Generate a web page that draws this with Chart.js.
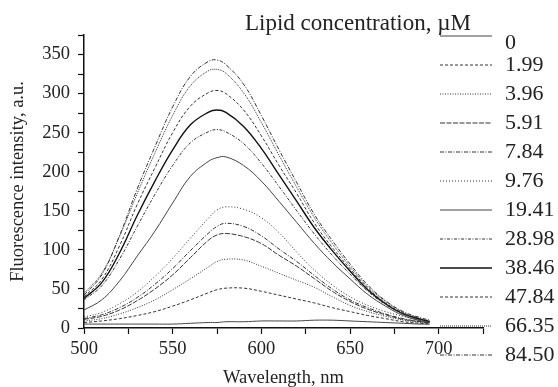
<!DOCTYPE html>
<html>
<head>
<meta charset="utf-8">
<script src="https://cdn.jsdelivr.net/npm/chart.js@4.4.1/dist/chart.umd.min.js"></script>
<style>
  html, body { margin: 0; padding: 0; background: #fff; }
  #wrap { width: 558px; height: 387px; }
</style>
</head>
<body>
<div id="wrap"><canvas id="spectra" width="558" height="387"></canvas></div>
<script>
// wavelength grid, nm
const wavelength = [500, 510, 520, 530, 540, 550, 560, 570, 575, 580, 590, 600, 610, 620, 630, 640, 650, 660, 670, 680, 690, 695];

// lipid concentration, uM (legend labels)
const concentrations = ['0', '1.99', '3.96', '5.91', '7.84', '9.76', '19.41', '28.98', '38.46', '47.84', '66.35', '84.50'];

// fluorescence intensity, a.u., one array per concentration
const f0     = [5, 5, 5, 5, 5, 5, 6, 7, 7, 8, 8, 9, 9, 9, 10, 10, 9, 8, 7, 6, 5, 5];
const f1_99  = [7, 9, 12, 16, 21, 28, 36, 45, 49, 51, 51, 47, 42, 37, 32, 26, 21, 16, 12, 8, 6, 5];
const f3_96  = [9, 12, 18, 26, 36, 49, 63, 78, 85, 88, 87, 79, 70, 61, 52, 40, 29, 21, 15, 10, 7, 6];
const f5_91  = [11, 15, 23, 35, 50, 68, 90, 112, 119, 121, 117, 108, 93, 79, 63, 47, 34, 24, 17, 11, 8, 6];
const f7_84  = [12, 17, 26, 39, 56, 76, 99, 121, 130, 134, 130, 118, 101, 85, 67, 50, 36, 26, 18, 12, 8, 7];
const f9_76  = [14, 20, 31, 46, 66, 89, 115, 140, 151, 155, 152, 141, 122, 97, 74, 55, 40, 29, 21, 15, 10, 8];
const f19_41 = [23, 36, 60, 92, 124, 160, 194, 213, 218, 219, 208, 188, 162, 135, 108, 84, 63, 43, 28, 16, 9, 7];
const f28_98 = [36, 54, 88, 130, 171, 208, 237, 251, 254, 251, 236, 211, 181, 150, 120, 93, 69, 47, 30, 18, 10, 8];
const f38_46 = [38, 58, 96, 144, 188, 228, 260, 276, 279, 276, 258, 230, 196, 162, 128, 99, 73, 49, 31, 18, 11, 8];
const f47_84 = [40, 62, 105, 158, 205, 250, 284, 301, 304, 300, 279, 246, 208, 172, 134, 103, 76, 51, 32, 19, 11, 9];
const f66_35 = [44, 70, 117, 172, 224, 272, 310, 329, 331, 326, 301, 263, 221, 180, 141, 108, 79, 53, 34, 20, 12, 9];
const f84_50 = [42, 68, 118, 178, 232, 283, 322, 341, 343, 337, 312, 272, 228, 186, 145, 112, 82, 55, 35, 21, 13, 10];

const seriesList = [f0, f1_99, f3_96, f5_91, f7_84, f9_76, f19_41, f28_98, f38_46, f47_84, f66_35, f84_50];

// line looks, same order as concentrations
const dashes = [[], [3, 2], [1, 1.5], [5, 1.5], [4, 1.5, 1, 1.5], [1, 2], [], [3, 1.5, 1, 1.5], [], [3, 2], [1, 1], [4, 1.5, 1, 1.5]];
const widths = [1, 1, 1, 1, 1, 1, 1, 1, 1.4, 1, 1, 1];
const colors = ['#444', '#333', '#333', '#333', '#333', '#333', '#444', '#333', '#111', '#333', '#333', '#333'];

const serif = "'Liberation Serif', 'Times New Roman', serif";
const ink = '#222';

// legend drawn over the right side, like the original figure
const sideLegend = {
    id: 'sideLegend',
    afterDraw: (chart) => {
        const ctx = chart.ctx;
        ctx.save();
        ctx.fillStyle = ink;
        ctx.font = '23px ' + serif;
        ctx.textAlign = 'left';
        ctx.textBaseline = 'alphabetic';
        ctx.fillText('Lipid concentration, \u00b5M', 245, 30);

        ctx.font = '22px ' + serif;
        ctx.textBaseline = 'middle';
        chart.data.datasets.forEach((ds, i) => {
            const lineY = 36 + 29 * i;
            const textY = i === 0 ? 43 : lineY;
            ctx.beginPath();
            ctx.setLineDash(ds.borderDash);
            ctx.lineWidth = ds.borderWidth;
            ctx.strokeStyle = ds.borderColor;
            ctx.moveTo(440, lineY);
            ctx.lineTo(492, lineY);
            ctx.stroke();
            ctx.setLineDash([]);
            ctx.fillText(ds.label, 505, textY);
        });
        ctx.restore();
    }
};

new Chart(document.getElementById('spectra').getContext('2d'), {
    type: 'line',
    data: {
        datasets: seriesList.map((s, i) => ({
            label: concentrations[i],
            data: wavelength.map((w, j) => ({ x: w, y: s[j] })),
            borderColor: colors[i],
            borderWidth: widths[i],
            borderDash: dashes[i],
            pointRadius: 0,
            tension: 0.4,
            fill: false
        }))
    },
    options: {
        responsive: false,
        animation: false,
        devicePixelRatio: 1,
        layout: { padding: { top: 35, right: 75, left: 0, bottom: 0 } },
        plugins: {
            legend: { display: false },
            tooltip: { enabled: false }
        },
        scales: {
            x: {
                type: 'linear',
                min: 500,
                max: 725,
                afterFit: (scale) => { scale.height = 59; },
                border: { display: true, color: '#111', width: 1.5 },
                grid: { display: true, drawOnChartArea: false, drawTicks: true, tickLength: 6, color: '#111', tickWidth: 1.2 },
                ticks: {
                    stepSize: 25,
                    padding: 4,
                    color: ink,
                    font: { family: serif, size: 18.5 },
                    maxRotation: 0,
                    autoSkip: false,
                    callback: (v) => (v % 50 === 0 && v <= 700 ? String(v) : '')
                },
                title: {
                    display: true,
                    text: 'Wavelength, nm',
                    color: ink,
                    font: { family: serif, size: 18.5, lineHeight: 1 },
                    padding: { top: 0, bottom: 0 }
                }
            },
            y: {
                min: 0,
                max: 375,
                afterFit: (scale) => { scale.width = 84; },
                border: { display: true, color: '#111', width: 1.5 },
                grid: { display: true, drawOnChartArea: false, drawTicks: true, tickLength: 6, color: '#111', tickWidth: 1.2 },
                ticks: {
                    stepSize: 25,
                    padding: 8,
                    color: ink,
                    font: { family: serif, size: 18.5 },
                    autoSkip: false,
                    callback: (v) => (v % 50 === 0 ? String(v) : '')
                },
                title: {
                    display: true,
                    text: 'Fluorescence intensity, a.u.',
                    color: ink,
                    font: { family: serif, size: 18.5 },
                    padding: { top: 7, bottom: 0 }
                }
            }
        }
    },
    plugins: [sideLegend]
});
</script>
</body>
</html>
